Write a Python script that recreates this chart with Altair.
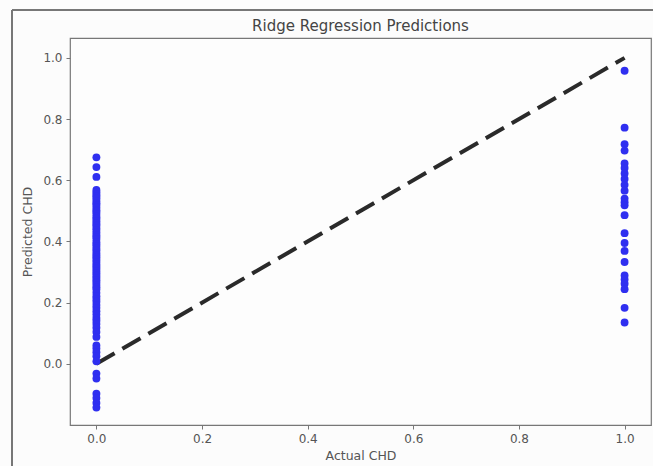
import altair as alt
import pandas as pd

# Predictions for actual CHD = 0
zero_preds = [0.675, 0.643, 0.611, 0.568, 0.561, 0.553, 0.547, 0.540, 0.532, 0.525,
              0.519, 0.511, 0.503, 0.497, 0.490, 0.481, 0.474, 0.466, 0.458, 0.452,
              0.444, 0.437, 0.429, 0.421, 0.415, 0.408, 0.398, 0.392, 0.385, 0.377,
              0.370, 0.362, 0.355, 0.348, 0.340, 0.333, 0.325, 0.318, 0.311, 0.303,
              0.296, 0.288, 0.281, 0.273, 0.266, 0.258, 0.250, 0.243, 0.232, 0.221,
              0.212, 0.203, 0.192, 0.183, 0.172, 0.161, 0.150, 0.141, 0.130, 0.118,
              0.104, 0.088, 0.060, 0.050, 0.038, 0.025, 0.008, -0.032, -0.048,
              -0.098, -0.112, -0.128, -0.143]
# Predictions for actual CHD = 1
one_preds = [0.958, 0.772, 0.718, 0.697, 0.655, 0.640, 0.622, 0.604, 0.585, 0.566,
             0.540, 0.528, 0.518, 0.486, 0.427, 0.395, 0.369, 0.333, 0.289, 0.276,
             0.262, 0.244, 0.183, 0.135]

line_x = [0.0, 1.0]
line_y = [0.0, 1.0]
TITLE = "Ridge Regression Predictions"

actual = [0.0] * len(zero_preds) + [1.0] * len(one_preds)
predicted = zero_preds + one_preds
df = pd.DataFrame({"actual": actual, "predicted": predicted})
line_df = pd.DataFrame({"x": line_x, "y": line_y})

FONT = "DejaVu Sans"
TICKS = [0.0, 0.2, 0.4, 0.6, 0.8, 1.0]

xscale = alt.Scale(domain=[-0.05, 1.05], nice=False, zero=False)
yscale = alt.Scale(domain=[-0.2, 1.065], nice=False, zero=False)

xaxis = alt.Axis(values=TICKS, format=".1f", title="Actual CHD", grid=False,
                 domain=False, tickColor="#777", tickSize=4, labelColor="#555",
                 labelFontSize=12, labelFont=FONT, titleFont=FONT,
                 titleFontSize=12.5, titleColor="#555", titleFontWeight="normal",
                 labelPadding=4, titlePadding=5)
yaxis = alt.Axis(values=TICKS, format=".1f", title="Predicted CHD", grid=False,
                 domain=False, tickColor="#777", tickSize=4, labelColor="#555",
                 labelFontSize=12, labelFont=FONT, titleFont=FONT,
                 titleFontSize=12.5, titleColor="#555", titleFontWeight="normal",
                 labelPadding=4, titlePadding=8)

points = alt.Chart(df).mark_circle(size=62, color="#2f2ff0", opacity=1).encode(
    x=alt.X("actual:Q", scale=xscale, axis=xaxis),
    y=alt.Y("predicted:Q", scale=yscale, axis=yaxis),
)

diag = alt.Chart(line_df).mark_line(color="#2a2a2a", strokeWidth=4,
                                    strokeDash=[21, 9]).encode(
    x=alt.X("x:Q", scale=xscale),
    y=alt.Y("y:Q", scale=yscale),
)

frame_left = alt.Chart(line_df).mark_rule(color="#777", strokeWidth=2, clip=False).encode(
    x=alt.value(-58), y=alt.value(-28), y2=alt.value(440)
)
frame_top = alt.Chart(line_df).mark_rule(color="#777", strokeWidth=2, clip=False).encode(
    x=alt.value(-58), x2=alt.value(600), y=alt.value(-28)
)

title_text = alt.Chart(pd.DataFrame({"t": [TITLE]})).mark_text(
    font=FONT, fontSize=15, color="#444", align="center", baseline="alphabetic"
).encode(x=alt.value(290.5), y=alt.value(-7), text="t:N")

chart = alt.layer(frame_left, frame_top, diag, points, title_text).properties(
    width=581,
    height=387,
    autosize=alt.AutoSizeParams(type="none"),
    padding={"left": 70, "top": 38, "right": 2, "bottom": 41},
    background="#fcfcfc",
).configure_view(stroke="#777", strokeWidth=1.2, fill="#fdfdfd")

chart.save("out.html", embed_options={"renderer": "svg", "actions": False})
